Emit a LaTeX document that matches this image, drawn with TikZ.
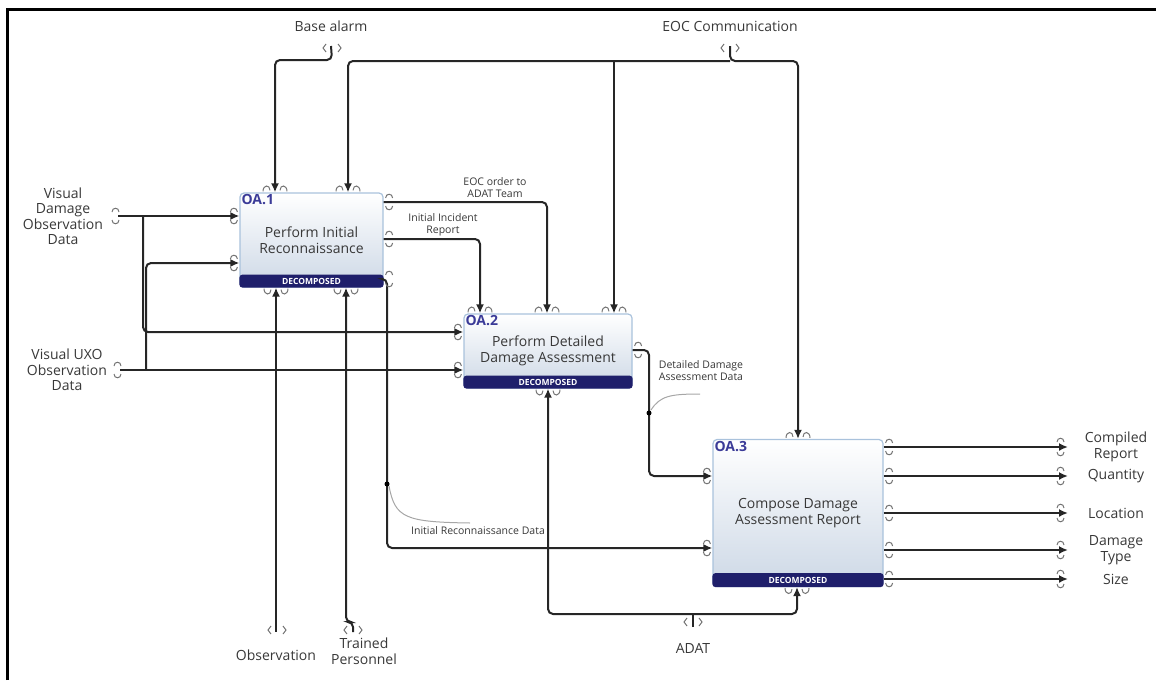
\documentclass[tikz,border=0pt]{standalone}
\usepackage{fontspec}
\setmainfont{Open Sans}
\usetikzlibrary{arrows.meta}
\definecolor{band}{HTML}{1F1F6B}
\definecolor{oablue}{HTML}{3B3B98}
\definecolor{boxline}{HTML}{A9C2DC}
\definecolor{boxfill}{HTML}{CDD8E6}
\definecolor{ink}{HTML}{383838}
\begin{document}
\begin{tikzpicture}[x=1pt, y=-1pt, >={Latex[length=9pt,width=8pt]},
  flow/.style={line width=2pt, draw=black!85, rounded corners=5pt},
  act/.style={draw=boxline, line width=1.2pt, rounded corners=4pt, top color=white, bottom color=boxfill, align=center, text=ink, font=\fontsize{14}{16.5}\selectfont},
  oaid/.style={anchor=north west, inner sep=2pt, text=oablue, font=\bfseries\fontsize{14}{14}\selectfont},
  dec/.style={text=white, inner sep=0pt, font=\bfseries\fontsize{8.5}{9}\selectfont},
  lab/.style={align=center, text=ink, font=\fontsize{14}{15.5}\selectfont},
  note/.style={align=center, text=ink, font=\fontsize{10.5}{12}\selectfont},
  curl/.style={draw=black!55, line width=1pt},
  leader/.style={draw=black!35, line width=1pt},
  rc/.pic={\draw[curl] (2,-4) .. controls (2,-9) and (9,-9) .. (9,-4) (2,4) .. controls (2,9) and (9,9) .. (9,4);},
  lc/.pic={\draw[curl] (-9,-4) .. controls (-9,-9) and (-2,-9) .. (-2,-4) (-9,4) .. controls (-9,9) and (-2,9) .. (-2,4);},
  ec/.pic={\draw[curl] (-11,-5) .. controls (-11,-10) and (-4,-10) .. (-4,-5) (-11,5) .. controls (-11,10) and (-4,10) .. (-4,5);},
  tc/.pic={\draw[curl] (-12,-1) .. controls (-12,-8) and (-5,-8) .. (-5,-2) (5,-2) .. controls (5,-8) and (12,-8) .. (12,-1);},
  bc/.pic={\draw[curl] (-12,1) .. controls (-12,8) and (-5,8) .. (-5,2) (5,2) .. controls (5,8) and (12,8) .. (12,1);},
  tun/.pic={\draw[curl] (-6,-4) -- (-9,0) -- (-6,4) (6,-4) -- (9,0) -- (6,4);}]
\useasboundingbox (0,0) rectangle (1156,680);
\draw[line width=3pt] (7,680) -- (7,9) -- (1156,9);

% activities
\node[act, minimum width=143pt, minimum height=94pt] (oa1) at (311.5,240) {Perform Initial\\Reconnaissance};
\node[act, minimum width=168pt, minimum height=74pt] (oa2) at (548,351) {Perform Detailed\\Damage Assessment};
\node[act, minimum width=170pt, minimum height=147pt] (oa3) at (798,513) {Compose Damage\\Assessment Report};
\fill[band, rounded corners=3pt] ([yshift=13pt]oa1.south west) rectangle (oa1.south east);
\fill[band, rounded corners=3pt] ([yshift=13pt]oa2.south west) rectangle (oa2.south east);
\fill[band, rounded corners=3pt] ([yshift=14pt]oa3.south west) rectangle (oa3.south east);
\node[dec] at ([yshift=6.5pt]oa1.south) {DECOMPOSED};
\node[dec] at ([yshift=6.5pt]oa2.south) {DECOMPOSED};
\node[dec] at ([yshift=7pt]oa3.south) {DECOMPOSED};
\node[oaid] at (oa1.north west) {OA.1};
\node[oaid] at (oa2.north west) {OA.2};
\node[oaid] at (oa3.north west) {OA.3};

% boundary labels
\node[lab] (base) at (331,26) {Base alarm};
\node[lab] (eoc) at (730,26) {EOC Communication};
\node[lab] (vdo) at (63,216) {Visual\\Damage\\Observation\\Data};
\node[lab] (uxo) at (67,370) {Visual UXO\\Observation\\Data};
\node[lab] (obs) at (276,655) {Observation};
\node[lab] (trn) at (364,651) {Trained\\Personnel};
\node[lab] (adat) at (693,648) {ADAT};

% controls
\draw[flow,->] (base.south |- 0,46) -- (332,60) -| (oa1.north -| 275,0);
\draw[flow,->] (eoc.south |- 0,46) -- (730,61) -| (oa3.north -| 798,0);
\draw[flow,->] (730,61) -| (oa1.north -| 348,0);
\draw[flow,->] (614,61) -- (oa2.north -| 614,0);
\draw[flow,->] (oa1.east |- 0,202) -| (oa2.north -| 547,0);
\draw[flow,->] (oa1.east |- 0,239) -| (oa2.north -| 480,0);
\node[note] at (495,188) {EOC order to\\ADAT Team};
\node[note] at (443,225) {Initial Incident\\Report};

% inputs
\draw[flow,->] (vdo.east -| 118,0) -- (oa1.west |- 0,216);
\draw[flow,->] (vdo.east -| 143,0) |- (oa2.west |- 0,332);
\draw[flow,->] (uxo.east -| 120,0) -- (oa2.west |- 0,370);
\draw[flow,->] (uxo.east -| 146,0) |- (oa1.west |- 0,263);
\draw[flow,->] (oa1.east |- 0,279) -| (387,548) -- (oa3.west |- 0,548);
\draw[flow,->] (oa2.east |- 0,350) -| (649,476) -- (oa3.west |- 0,476);
\fill (387,484) circle (2.5);
\fill (649,413) circle (2.5);
\draw[leader] (389,486) .. controls (395,518) and (405,522) .. (470,523);
\draw[leader] (651,410) .. controls (660,396) and (670,394) .. (700,394);
\node[note] at (478,531) {Initial Reconnaissance Data};
\node[note] at (701,371) {Detailed Damage\\Assessment Data};

% mechanisms
\draw[flow,<-] (oa1.south -| 276,0) -- (obs.north |- 0,632);
\draw[flow,<-] (oa1.south -| 346,0) -- (346,622) -| (353,632);
\draw[flow,<->] (oa2.south -| 548,0) |- (693,614) -| (oa3.south -| 797,0);
\draw[flow] (adat.north |- 0,627) -- (693,614);

% outputs
\foreach \y/\t [count=\i] in {447/{Compiled\\Report}, 476/Quantity, 513/Location, 550/{Damage\\Type}, 579/Size}{
  \node[lab] (out\i) at (1116,\y) {\t};
  \draw[flow,->] (oa3.east |- 0,\y) -- (out\i.west -| 1068,0);
  \pic at (oa3.east |- 0,\y) {rc};
  \pic at (1068,\y) {ec};
}

% port marks
\pic at (110,216) {rc};
\pic at (112,370) {rc};
\pic at (oa1.east |- 0,202) {rc};
\pic at (oa1.east |- 0,239) {rc};
\pic at (oa1.east |- 0,279) {rc};
\pic at (oa2.east |- 0,350) {rc};
\pic at (oa1.west |- 0,216) {lc};
\pic at (oa1.west |- 0,263) {lc};
\pic at (oa2.west |- 0,332) {lc};
\pic at (oa2.west |- 0,370) {lc};
\pic at (oa3.west |- 0,476) {lc};
\pic at (oa3.west |- 0,548) {lc};
\pic at (oa1.north -| 275,0) {tc};
\pic at (oa1.north -| 348,0) {tc};
\pic at (oa2.north -| 480,0) {tc};
\pic at (oa2.north -| 547,0) {tc};
\pic at (oa2.north -| 614,0) {tc};
\pic at (oa3.north -| 798,0) {tc};
\pic at (oa1.south -| 276,0) {bc};
\pic at (oa1.south -| 346,0) {bc};
\pic at (oa2.south -| 548,0) {bc};
\pic at (oa3.south -| 797,0) {bc};
\pic at (332,48) {tun};
\pic at (730,48) {tun};
\pic at (277,630) {tun};
\pic at (353,630) {tun};
\pic at (693,622) {tun};
\end{tikzpicture}
\end{document}
